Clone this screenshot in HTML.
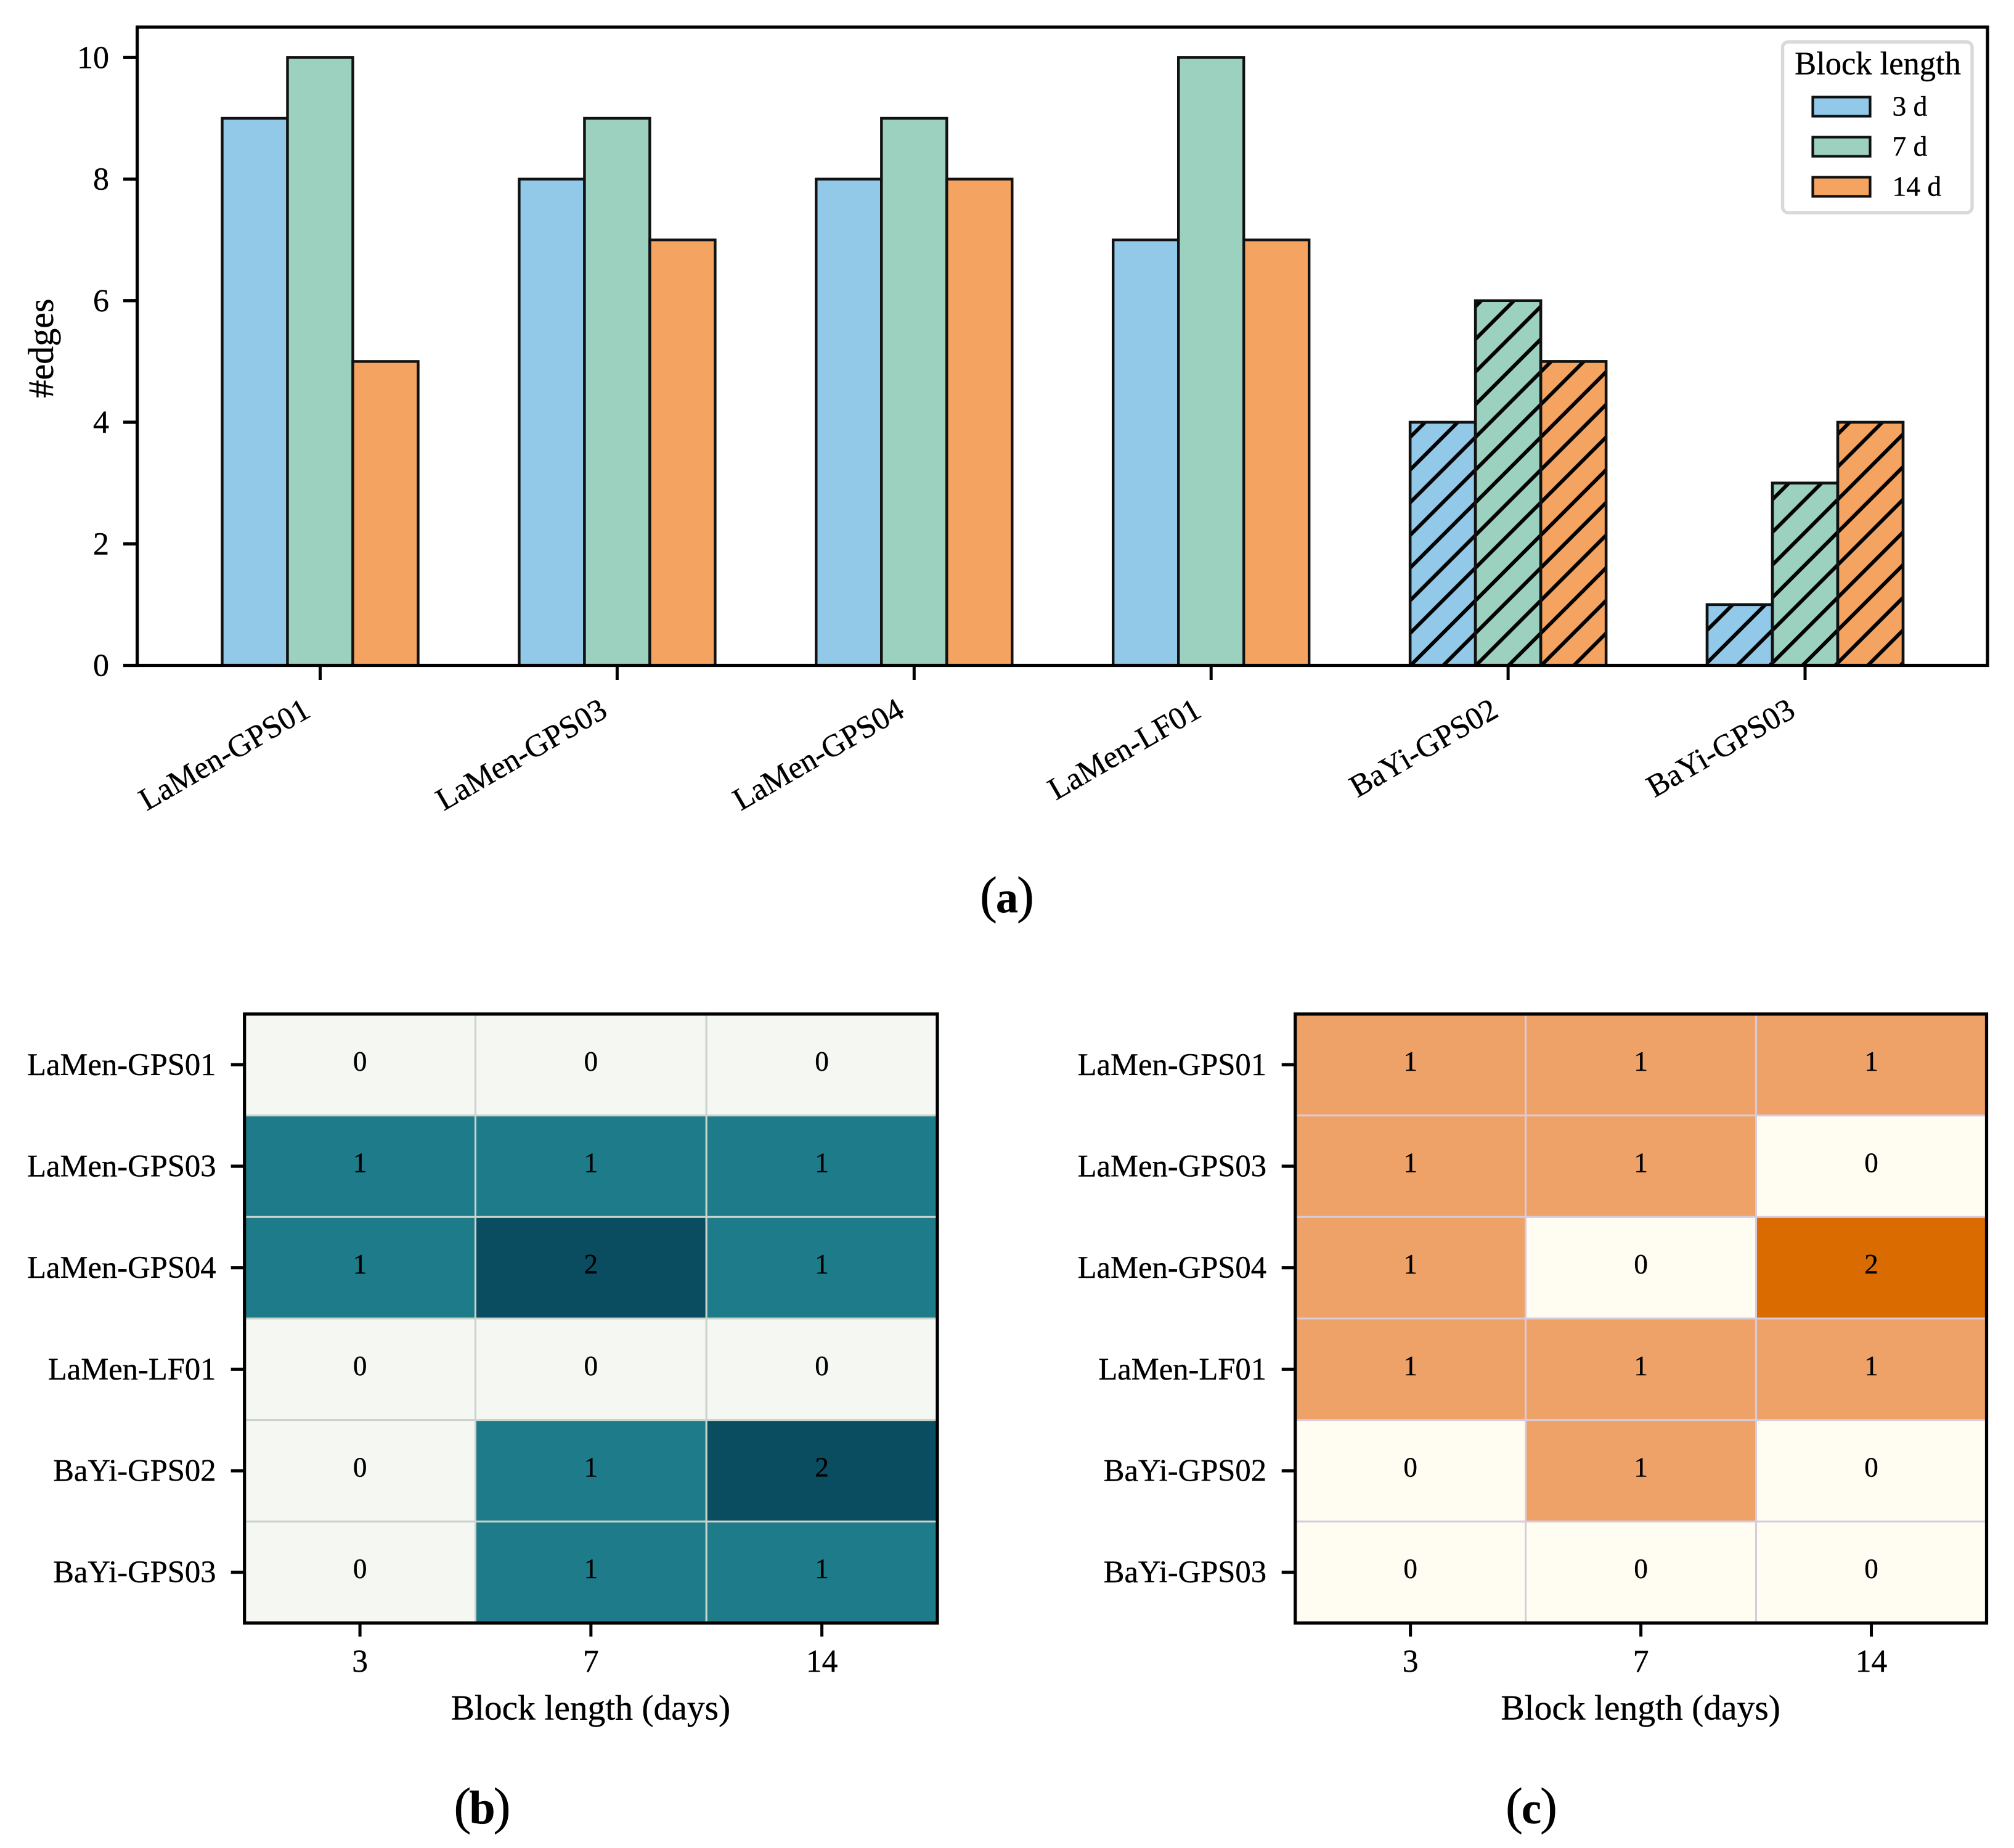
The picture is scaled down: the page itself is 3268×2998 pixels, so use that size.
<!DOCTYPE html>
<html lang="en">
<head>
<meta charset="utf-8">
<title>Block length comparison</title>
<style>
html,body{margin:0;padding:0;background:#fff;}
svg{display:block;}
text{font-family:"Liberation Serif","Times New Roman",serif;fill:#000;stroke:#000;stroke-width:0.4;}
</style>
</head>
<body>
<svg id="figure" xmlns="http://www.w3.org/2000/svg" width="3268" height="2998" viewBox="0 0 3268 2998">
  <rect x="0" y="0" width="3268" height="2998" fill="#ffffff"/>
  <defs>
    <pattern id="hatch" patternUnits="userSpaceOnUse" width="53" height="53" patternTransform="translate(2997.4 0)">
      <line x1="-10" y1="63" x2="63" y2="-10" stroke="#000" stroke-width="6"/>
      <line x1="-10" y1="10" x2="10" y2="-10" stroke="#000" stroke-width="6"/>
      <line x1="43" y1="63" x2="63" y2="43" stroke="#000" stroke-width="6"/>
    </pattern>
  </defs>
  <g id="panel-a"></g>
  <g id="panel-b"></g>
  <g id="panel-c"></g>
  <g id="legend">
    <rect x="2892.5" y="68" width="307.5" height="277" rx="9" ry="9" fill="#ffffff" stroke="#d9d9d9" stroke-width="5.4"/>
    <text x="3047" y="120.5" font-size="52.5" text-anchor="middle">Block length</text>
    <rect x="2941.5" y="157.5" width="93" height="31" fill="#92c9e8" stroke="#111" stroke-width="4.2"/>
    <text x="3070.5" y="187.5" font-size="45.5">3 d</text>
    <rect x="2941.5" y="222.5" width="93" height="31" fill="#9cd0bf" stroke="#111" stroke-width="4.2"/>
    <text x="3070.5" y="252.5" font-size="45.5">7 d</text>
    <rect x="2941.5" y="287.5" width="93" height="31" fill="#f4a460" stroke="#111" stroke-width="4.2"/>
    <text x="3070.5" y="317.5" font-size="45.5">14 d</text>
  </g>
  <text x="1634" y="1480" font-size="84" text-anchor="middle">(<tspan font-size="72" font-weight="bold" dx="-2">a</tspan><tspan dx="-2">)</tspan></text>
  <text x="782.5" y="2958" font-size="84" text-anchor="middle">(<tspan font-size="76" font-weight="bold" dx="-3">b</tspan><tspan dx="-3">)</tspan></text>
  <text x="2485" y="2958" font-size="84" text-anchor="middle">(<tspan font-size="72" font-weight="bold" dx="-2">c</tspan><tspan dx="-2">)</tspan></text>
</svg>
<script>
// Chart data
const sites = ['LaMen-GPS01', 'LaMen-GPS03', 'LaMen-GPS04', 'LaMen-LF01', 'BaYi-GPS02', 'BaYi-GPS03'];
const hatchedSites = ['BaYi-GPS02', 'BaYi-GPS03'];
const edges3d = [9, 8, 8, 7, 4, 1];
const edges7d = [10, 9, 9, 10, 6, 3];
const edges14d = [5, 7, 8, 7, 5, 4];
const yTicks = [0, 2, 4, 6, 8, 10];
const blockLengths = [3, 7, 14];
const heatB = [[0, 0, 0], [1, 1, 1], [1, 2, 1], [0, 0, 0], [0, 1, 2], [0, 1, 1]];
const heatC = [[1, 1, 1], [1, 1, 0], [1, 0, 2], [1, 1, 1], [0, 1, 0], [0, 0, 0]];
const paletteB = ['#f5f7f2', '#1e7c8a', '#0b4d60'];
const paletteC = ['#fffdf2', '#efa268', '#d96b00'];

const NS = 'http://www.w3.org/2000/svg';
function add(parent, tag, attrs, text) {
  const el = document.createElementNS(NS, tag);
  for (const k in attrs) el.setAttribute(k, attrs[k]);
  if (text !== undefined) el.textContent = text;
  parent.appendChild(el);
  return el;
}

// Bar chart axes
const A = { left: 222.7, right: 3225, top: 44, bottom: 1079.5 };
const xBand = i => 519.5 + 481.9 * i;
const yVal = v => 1079.5 - 98.62 * v;
const barW = 106;
const panelA = document.getElementById('panel-a');
const barSeries = [
  { key: '3d', values: edges3d, color: '#92c9e8' },
  { key: '7d', values: edges7d, color: '#9cd0bf' },
  { key: '14d', values: edges14d, color: '#f4a460' }
];
barSeries.forEach((s, si) => {
  s.values.forEach((v, i) => {
    const x = xBand(i) + (si - 1.5) * barW;
    const y = yVal(v);
    const bar = add(panelA, 'rect', { x: x, y: y, width: barW, height: yVal(0) - y, fill: s.color, stroke: '#111', 'stroke-width': 4.4 });
    
    
    if (hatchedSites.includes(sites[i])) {
      const h = add(panelA, 'rect', { x: x, y: y, width: barW, height: yVal(0) - y, fill: 'url(#hatch)', stroke: '#111', 'stroke-width': 4.4 });
      
      
    }
  });
});
const frameA = add(panelA, 'rect', { x: A.left, y: A.top, width: A.right - A.left, height: A.bottom - A.top, fill: 'none', stroke: '#000', 'stroke-width': 5.2 });


yTicks.forEach(t => {
  const tick = add(panelA, 'line', { x1: 200, x2: A.left, y1: yVal(t), y2: yVal(t), stroke: '#000', 'stroke-width': 5.2 });
  
  
  const label = add(panelA, 'text', { x: 177, y: yVal(t) + 17, 'font-size': 52, 'text-anchor': 'end' }, String(t));
  
  
});
sites.forEach((name, i) => {
  const tick = add(panelA, 'line', { x1: xBand(i), x2: xBand(i), y1: A.bottom, y2: 1103, stroke: '#000', 'stroke-width': 5 });
  
  
  const label = add(panelA, 'text', { transform: 'translate(' + (xBand(i) - 13) + ' 1161) rotate(-30)', 'font-size': 51.2, 'text-anchor': 'end' }, name);
  
  
});
const yTitle = add(panelA, 'text', { transform: 'translate(86 565) rotate(-90)', 'font-size': 58, 'text-anchor': 'middle' }, '#edges');



// Heatmaps
function drawHeatmap(panel, matrix, palette, left, right, lineColor, labelRight, prefix) {
  const top = 1645, bottom = 2633;
  const colW = (right - left) / blockLengths.length;
  const rowH = (bottom - top) / sites.length;
  const xCell = c => left + colW * c;
  const yCell = r => top + rowH * r;
  matrix.forEach((row, r) => {
    row.forEach((v, c) => {
      const cell = add(panel, 'rect', { x: xCell(c), y: yCell(r), width: colW, height: rowH, fill: palette[v], stroke: lineColor, 'stroke-width': 3 });
      
      
      const val = add(panel, 'text', { x: xCell(c) + colW / 2, y: yCell(r) + rowH / 2 + 9.5, 'font-size': 45, 'text-anchor': 'middle' }, String(v));
      
      
    });
  });
  const frame = add(panel, 'rect', { x: left, y: top, width: right - left, height: bottom - top, fill: 'none', stroke: '#000', 'stroke-width': 5.2 });
  
  
  sites.forEach((name, r) => {
    const yc = yCell(r) + rowH / 2;
    const tick = add(panel, 'line', { x1: left - 22, x2: left, y1: yc, y2: yc, stroke: '#000', 'stroke-width': 5.2 });
    
    
    const label = add(panel, 'text', { x: labelRight, y: yc + 16.5, 'font-size': 50.6, 'text-anchor': 'end' }, name);
    
    
  });
  blockLengths.forEach((d, c) => {
    const xc = xCell(c) + colW / 2;
    const tick = add(panel, 'line', { x1: xc, x2: xc, y1: bottom, y2: bottom + 22, stroke: '#000', 'stroke-width': 5 });
    
    
    const label = add(panel, 'text', { x: xc, y: 2712, 'font-size': 51.5, 'text-anchor': 'middle' }, String(d));
    
    
  });
  const xTitle = add(panel, 'text', { x: (left + right) / 2 - 0.5, y: 2789.5, 'font-size': 57.5, 'text-anchor': 'middle' }, 'Block length (days)');
  
  
}
drawHeatmap(document.getElementById('panel-b'), heatB, paletteB, 396.7, 1521, '#cbd3cd', 350.5, 'heatmap-b');
drawHeatmap(document.getElementById('panel-c'), heatC, paletteC, 2101.7, 3223.5, '#d8cbdc', 2055, 'heatmap-c');
</script>
</body>
</html>
